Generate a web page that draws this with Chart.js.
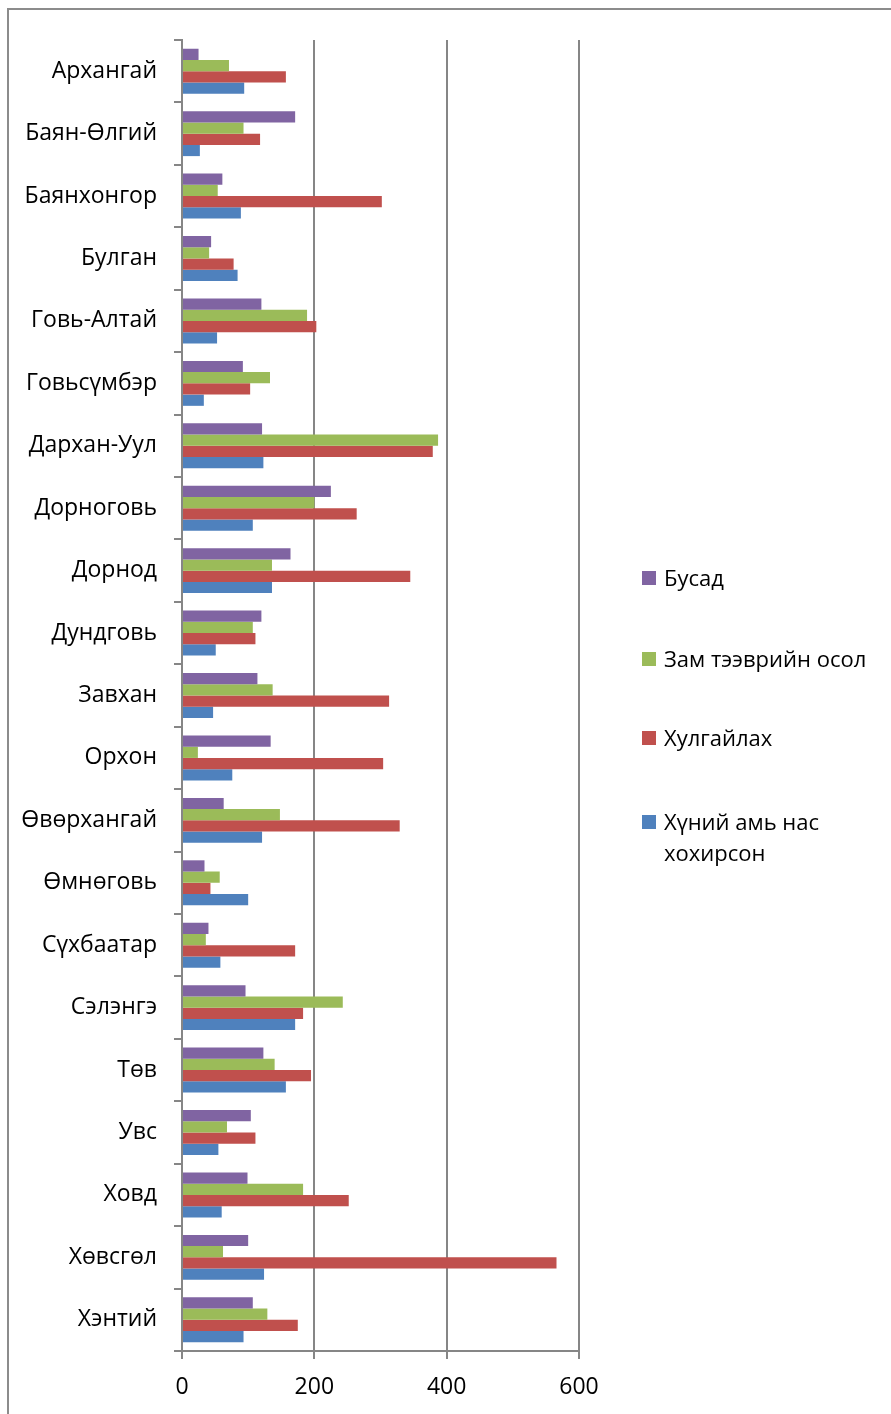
<!DOCTYPE html>
<html>
<head>
<meta charset="utf-8">
<script src="https://cdn.jsdelivr.net/npm/chart.js@4.4.1/dist/chart.umd.min.js"></script>
<style>
  html, body { margin: 0; padding: 0; background: #fff; overflow: hidden; }
  #wrap { position: relative; width: 891px; height: 1414px; }
  #frame {
    position: absolute; left: 7px; top: 8px; width: 1000px; height: 1500px;
    border-top: 2px solid #8c8c8c; border-left: 2px solid #8c8c8c;
  }
  #chart { position: absolute; left: 0; top: 0; }
  .legend { position: absolute; left: 642px; font-family: "Open Sans", sans-serif; font-size: 22px; color: #000; }
  .legend .item { position: absolute; left: 0; white-space: nowrap; line-height: 31px; }
  .legend .box { position: absolute; left: 0; width: 14px; height: 14px; }
  .legend .txt { position: absolute; left: 22px; }
</style>
</head>
<body>
<div id="wrap">
  <div id="frame"></div>
  <canvas id="chart" width="891" height="1414"></canvas>
  <div class="legend" id="legend"></div>
</div>
<script>
const regions = [
  "Архангай", "Баян-Өлгий", "Баянхонгор", "Булган", "Говь-Алтай", "Говьсүмбэр",
  "Дархан-Уул", "Дорноговь", "Дорнод", "Дундговь", "Завхан", "Орхон",
  "Өвөрхангай", "Өмнөговь", "Сүхбаатар", "Сэлэнгэ", "Төв", "Увс",
  "Ховд", "Хөвсгөл", "Хэнтий"
];
const busad = [25, 171, 61, 44, 120, 92, 121, 225, 164, 120, 114, 134, 63, 34, 40, 96, 123, 104, 99, 100, 107];
const zamTeever = [71, 93, 54, 41, 189, 133, 387, 200, 136, 107, 137, 24, 148, 57, 36, 243, 140, 68, 183, 62, 129];
const hulgailah = [157, 118, 302, 78, 203, 103, 379, 264, 345, 111, 313, 304, 329, 43, 171, 183, 195, 111, 252, 566, 175];
const hunii = [94, 27, 89, 84, 53, 33, 123, 107, 136, 51, 47, 76, 121, 100, 58, 171, 157, 55, 60, 124, 93];
const xTicks = [0, 200, 400, 600];

const series = [
  { name: "Бусад", data: busad, color: "#8064A2" },
  { name: "Зам тээврийн осол", data: zamTeever, color: "#9BBB59" },
  { name: "Хулгайлах", data: hulgailah, color: "#C0504D" },
  { name: "Хүний амь нас хохирсон", data: hunii, color: "#4F81BD" },
];

const catFont = { family: "'Open Sans', sans-serif", size: 23 };
const tickFont = { family: "'Open Sans', sans-serif", size: 23 };
const axisGray = "#868686";

const ctx = document.getElementById("chart").getContext("2d");
const chart = new Chart(ctx, {
  type: "bar",
  data: {
    labels: regions,
    datasets: series.map((s) => ({
      label: s.name,
      data: s.data,
      backgroundColor: s.color,
      borderWidth: 0,
      categoryPercentage: 0.72,
      barPercentage: 1.0,
    })),
  },
  options: {
    indexAxis: "y",
    responsive: false,
    devicePixelRatio: 1,
    animation: false,
    layout: { padding: { top: 40, right: 312, left: 0, bottom: 0 } },
    plugins: {
      legend: { display: false },
      tooltip: { enabled: false },
    },
    scales: {
      x: {
        min: 0,
        max: 600,
        afterBuildTicks: (scale) => {
          scale.ticks = xTicks.map((v) => ({ value: v }));
        },
        afterFit: (scale) => {
          scale.height = 1414 - 1351;
        },
        ticks: { font: tickFont, color: "#000", padding: 15, maxRotation: 0 },
        grid: { color: axisGray, lineWidth: 2, tickLength: 8 },
        border: { color: axisGray, width: 2 },
      },
      y: {
        afterFit: (scale) => {
          scale.width = 182;
        },
        ticks: { font: catFont, color: "#000", padding: 17 },
        grid: { offset: true, drawOnChartArea: false, color: axisGray, lineWidth: 2, tickLength: 8 },
        border: { color: axisGray, width: 2 },
      },
    },
  },
});

// legend, drawn as html so the last label can wrap like the original
const legendTops = [562, 643, 722, 806];
const legendEl = document.getElementById("legend");
series.forEach((s, i) => {
  const item = document.createElement("div");
  item.className = "item";
  item.style.top = legendTops[i] + "px";
  const box = document.createElement("div");
  box.className = "box";
  box.style.background = s.color;
  box.style.top = "9px";
  const txt = document.createElement("div");
  txt.className = "txt";
  if (s.name === "Хүний амь нас хохирсон") {
    txt.innerHTML = "Хүний амь нас<br>хохирсон";
  } else {
    txt.textContent = s.name;
  }
  item.appendChild(box);
  item.appendChild(txt);
  legendEl.appendChild(item);
});
</script>
</body>
</html>
